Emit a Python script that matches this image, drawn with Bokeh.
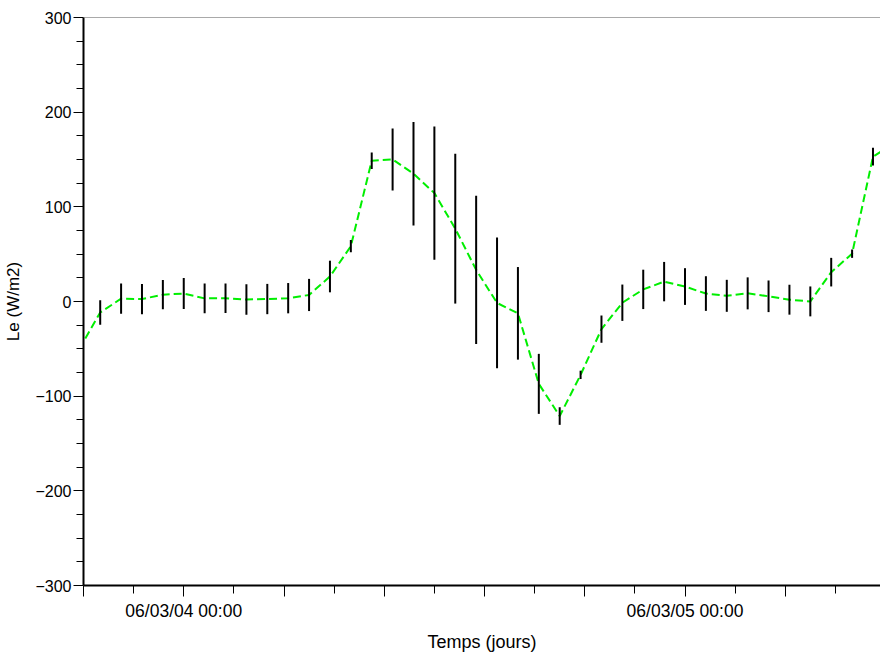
from bokeh.plotting import figure
from bokeh.models import Range1d, FixedTicker, Span, CustomJSTickFormatter, ColumnDataSource
from bokeh.embed import file_html
from bokeh.resources import INLINE

# Hours relative to 06/03/04 00:00
hours = list(range(-5, 35))
le_mean = [-50, -11.6, 3.0, 2.6, 7.2, 8.4, 3.3, 3.5, 2.1, 2.6, 3.5, 6.9, 26.4, 58.4,
           148.7, 150.0, 135.0, 114.5, 77.0, 33.4, -1.5, -12.5, -87.0, -121.0, -77.5,
           -29.2, -1.3, 12.8, 21.0, 15.8, 8.4, 6.0, 8.6, 5.5, 1.9, 0.1, 31.0, 50.5,
           153.0, 167.0]
le_err = [10, 13, 16, 16, 15.5, 16.4, 15.8, 15.6, 16, 16, 16, 17, 16.7, 6.5, 8.8,
          32.7, 54.6, 70.4, 79.2, 78.3, 69, 48.9, 31.7, 9.3, 4.4, 14.4, 19.2, 20.8,
          20.8, 19.4, 18.3, 16.9, 16.9, 16.7, 15.8, 15.8, 15.1, 4.4, 9.3, 10]

x_major_ticks = [-4.8, 0, 4.8, 9.6, 14.4, 19.2, 24, 28.8, 33.6]
x_minor_ticks = [-2.4, 2.4, 7.2, 12, 16.8, 21.6, 26.4, 31.2]
x_tick_labels = {0: "06/03/04 00:00", 24: "06/03/05 00:00"}
y_major_ticks = [-300, -200, -100, 0, 100, 200, 300]
y_tick_labels = ["\u2212300", "\u2212200", "\u2212100", "0", "100", "200", "300"]
y_minor_ticks = [v for v in range(-300, 301, 25) if v % 100 != 0]

src = ColumnDataSource(dict(
    x=hours, y=le_mean,
    lo=[m - e for m, e in zip(le_mean, le_err)],
    hi=[m + e for m, e in zip(le_mean, le_err)],
))

FONT = "Liberation Sans"

p = figure(width=880, height=654, output_backend="svg", toolbar_location=None,
           x_range=Range1d(-4.8, 33.36), y_range=Range1d(-300, 300),
           min_border_left=83, min_border_right=0, min_border_top=17, min_border_bottom=68)
p.outline_line_color = None
p.grid.visible = False
p.background_fill_color = "white"
p.border_fill_color = "white"

p.line("x", "y", source=src, line_color="#00ee00", line_width=2, line_dash="8 4")
p.segment(x0="x", y0="lo", x1="x", y1="hi", source=src, line_color="black", line_width=2)

p.add_layout(Span(location=300, dimension="width", line_color="#555555", line_width=1))

xa = p.xaxis[0]
xa.ticker = FixedTicker(ticks=x_major_ticks, minor_ticks=x_minor_ticks)
xa.formatter = CustomJSTickFormatter(code="return ''")
xa.major_label_overrides = {float(k): v for k, v in x_tick_labels.items()}
xa.axis_label = "Temps (jours)"
xa.axis_line_width = 2
xa.axis_line_color = "black"
xa.major_tick_out = 11
xa.minor_tick_out = 8
xa.major_tick_in = 0
xa.minor_tick_in = 0
xa.major_tick_line_color = "black"
xa.minor_tick_line_color = "black"
xa.major_label_standoff = 4
xa.axis_label_standoff = 8
xa.major_label_text_font = FONT
xa.major_label_text_font_size = "17.5px"
xa.major_label_text_color = "black"
xa.axis_label_text_font = FONT
xa.axis_label_text_font_size = "18px"
xa.axis_label_text_font_style = "normal"
xa.axis_label_text_color = "black"

ya = p.yaxis[0]
ya.ticker = FixedTicker(ticks=y_major_ticks, minor_ticks=y_minor_ticks)
ya.major_label_overrides = {k: v for k, v in zip(y_major_ticks, y_tick_labels)}
ya.axis_label = "Le (W/m2)"
ya.axis_line_width = 2
ya.axis_line_color = "black"
ya.major_tick_out = 10
ya.minor_tick_out = 7
ya.major_tick_in = 0
ya.minor_tick_in = 0
ya.major_tick_line_color = "black"
ya.minor_tick_line_color = "black"
ya.major_label_standoff = 2
ya.axis_label_standoff = 9
ya.major_label_text_font = FONT
ya.major_label_text_font_size = "16px"
ya.major_label_text_color = "black"
ya.axis_label_text_font = FONT
ya.axis_label_text_font_size = "17px"
ya.axis_label_text_font_style = "normal"
ya.axis_label_text_color = "black"

open("out.html", "w").write(file_html(p, INLINE))
